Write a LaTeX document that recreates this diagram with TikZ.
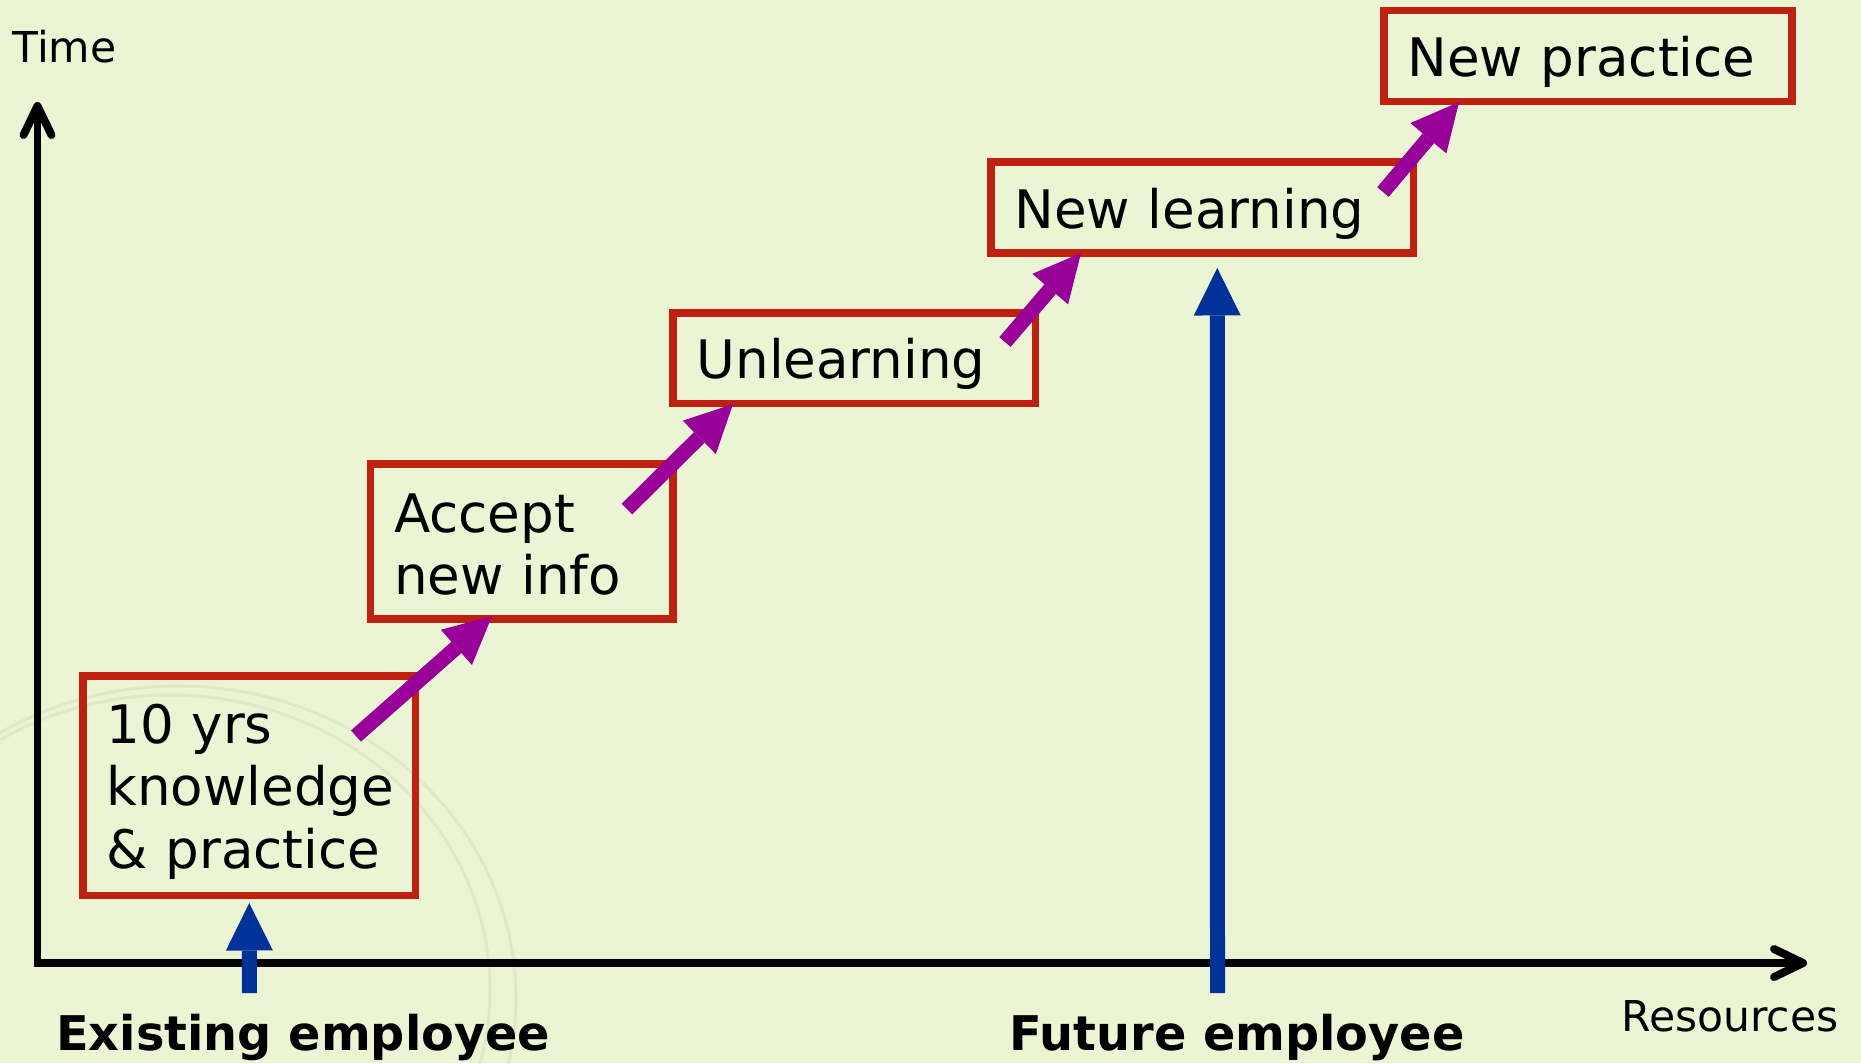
\documentclass[tikz,border=0pt]{standalone}
\usepackage{fontspec}
\setmainfont{DejaVu Sans}
\usetikzlibrary{arrows.meta,calc}
\definecolor{bggreen}{RGB}{235,245,211}
\definecolor{boxred}{RGB}{192,32,16}
\definecolor{stepviolet}{RGB}{153,0,153}
\definecolor{empblue}{RGB}{0,51,153}
\tikzset{%
  stepbox/.style   = {shape=rectangle, draw=boxred, line width=0.15cm,%
                      inner xsep=0.47cm, inner ysep=0pt, outer sep=0pt,%
                      align=left, font=\fontsize{30.2}{35.8}\selectfont,%
                      text height=0.82cm, text depth=0pt},%
  climb/.style     = {draw=stepviolet, line width=0.3cm,%
                      >={Triangle[length=0.95cm, width=0.94cm, line width=0pt]}, ->},%
  hire/.style      = {climb, draw=empblue},%
  axis/.style      = {draw=black, line width=0.16cm, line join=miter,%
                      >={Straight Barb[length=0.58cm, width=0.56cm, round]}, <->},%
  axislabel/.style = {inner sep=0pt, anchor=base west,%
                      font=\fontsize{24.2}{29}\selectfont},%
  emplabel/.style  = {inner sep=0pt, anchor=base west,%
                      font=\fontsize{27.2}{32}\selectfont\bfseries},%
  ghost/.style     = {draw=black, opacity=0.05, line width=0.06cm}%
}
\begin{document}
\begin{tikzpicture}[x=0.02cm, y=-0.02cm]
  \fill[bggreen] (0,0) rectangle (1861,1063);
  \useasboundingbox (0,0) rectangle (1861,1063);
  \draw[ghost] (170,990) ellipse [x radius=320, y radius=295];
  \draw[ghost] (178,998) ellipse [x radius=338, y radius=312];
  % axes
  \coordinate (origin) at (37.5,963);
  \coordinate (timeend) at (37.5,102);
  \coordinate (resend) at (1807,963);
  \draw[axis] (timeend) -- (origin) -- (resend);
  \node[axislabel] (time) at (12,62) {Time};
  \node[axislabel] (res) at (1621,1031) {Resources};
  % steps
  \node[stepbox, minimum width=6.65cm, minimum height=4.39cm, text width=5.71cm,
        text depth=2.53cm] (tenyrs) at (249.25,785.75) {10 yrs\\knowledge\\\& practice};
  \node[stepbox, minimum width=6.05cm, minimum height=3.10cm, text width=5.11cm,
        text depth=1.20cm] (accept) at (521.75,541.5) {Accept\\new info};
  \node[stepbox, minimum width=7.25cm, minimum height=1.81cm, text width=6.31cm]
        (unlearn) at (854.25,358.25) {Unlearning};
  \node[stepbox, minimum width=8.45cm, minimum height=1.82cm, text width=7.51cm]
        (newlearn) at (1202.25,207.5) {New learning};
  \node[stepbox, minimum width=8.16cm, minimum height=1.82cm, text width=7.22cm]
        (newpract) at (1588,56) {New practice};
  \draw[climb] ($(tenyrs.north east)+(-59.5,60)$) -- ($(accept.south west)+(121.5,-3)$);
  \draw[climb] ($(accept.north east)+(-46,45)$) -- ($(unlearn.south west)+(60,0.5)$);
  \draw[climb] ($(unlearn.north east)+(-30.5,29)$) -- ($(newlearn.south west)+(90,0)$);
  \draw[climb] ($(newlearn.north east)+(-30.5,30)$) -- ($(newpract.south west)+(75,0.5)$);
  % employees
  \node[emplabel] (existing) at (56,1050) {Existing employee};
  \node[emplabel] (future) at (1009,1050) {Future employee};
  \coordinate (existfoot) at (249.5,993);
  \coordinate (futurefoot) at (1217.5,993);
  \draw[hire] (existfoot) -- ($(tenyrs.south)+(0,7.5)$);
  \draw[hire] (futurefoot) -- ($(newlearn.south)+(15,15)$);
\end{tikzpicture}
\end{document}
